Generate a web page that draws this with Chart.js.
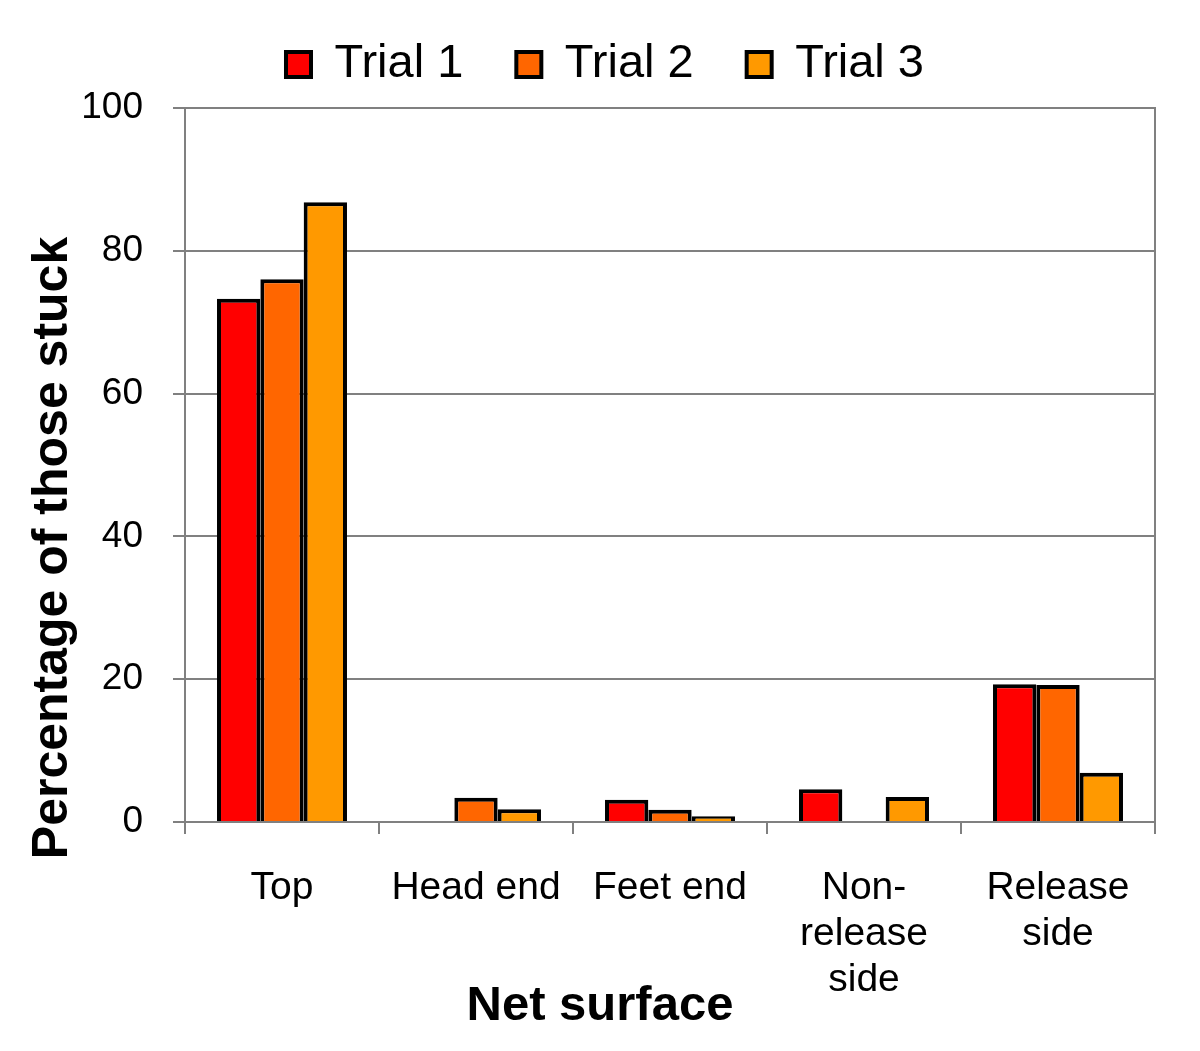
<!DOCTYPE html>
<html>
<head>
<meta charset="utf-8">
<script src="https://cdn.jsdelivr.net/npm/chart.js@4"></script>
<style>
html,body{margin:0;padding:0;background:#fff;}
#wrap{width:1200px;height:1051px;position:relative;}
</style>
</head>
<body>
<div id="wrap"><canvas id="c" width="1200" height="1051"></canvas></div>
<script>
const categories = [["Top"], ["Head end"], ["Feet end"], ["Non-", "release", "side"], ["Release", "side"]];
const seriesNames = ["Trial 1", "Trial 2", "Trial 3"];
const trial1 = [73.3, 0, 3.1, 4.6, 19.3];
const trial2 = [76.0, 3.4, 1.7, 0, 19.2];
const trial3 = [86.8, 1.8, 0.8, 3.5, 6.9];
const yTicks = [0, 20, 40, 60, 80, 100];
const colors = ["#FF0000", "#FF6600", "#FF9900"];
const xTitle = "Net surface";
const yTitle = "Percentage of those stuck";

const font = "'Liberation Sans', Arial, sans-serif";

// frame (top/right border) and axis titles placed like the original
const decor = {
  id: 'decor',
  afterDraw(chart) {
    const a = chart.chartArea, ctx = chart.ctx;
    ctx.save();
    ctx.strokeStyle = '#808080';
    ctx.lineWidth = 2;
    ctx.beginPath();
    ctx.moveTo(a.left, a.top); ctx.lineTo(a.right, a.top); ctx.lineTo(a.right, a.bottom);
    ctx.stroke();

    ctx.fillStyle = '#000';
    ctx.textAlign = 'center';
    ctx.textBaseline = 'alphabetic';
    ctx.font = "bold 49px " + font;
    ctx.fillText(chart.options.scales.x.title.text, 600, 1020);

    ctx.font = "bold 50px " + font;
    ctx.translate(67, 548);
    ctx.rotate(-Math.PI / 2);
    ctx.fillText(chart.options.scales.y.title.text, 0, 0);
    ctx.restore();
  }
};

new Chart(document.getElementById('c'), {
  type: 'bar',
  data: {
    labels: categories,
    datasets: [trial1, trial2, trial3].map((d, i) => ({
      label: seriesNames[i],
      data: d,
      backgroundColor: colors[i],
      borderColor: '#000',
      borderWidth: 4,
      borderSkipped: 'bottom'
    }))
  },
  options: {
    responsive: false,
    animation: false,
    devicePixelRatio: 1,
    layout: { padding: { top: -12, right: 45, bottom: 8, left: 55 } },
    datasets: { bar: { barPercentage: 1.0, categoryPercentage: 0.67 } },
    plugins: {
      legend: {
        position: 'top',
        labels: {
          font: { family: font, size: 47 },
          color: '#000',
          boxWidth: 25,
          boxHeight: 25,
          padding: 53
        }
      },
      tooltip: { enabled: false }
    },
    scales: {
      x: {
        grid: { display: true, drawOnChartArea: false, drawTicks: true, tickLength: 12, color: '#808080', lineWidth: 2, offset: true },
        border: { display: true, color: '#808080', width: 2 },
        ticks: { font: { family: font, size: 39, lineHeight: 1.18 }, color: '#000', padding: 31, maxRotation: 0, autoSkip: false },
        title: { display: false, text: xTitle },
        afterFit(s) { s.height = 221; }
      },
      xTop: {
        type: 'category',
        position: 'top',
        display: true,
        grid: { display: false, drawTicks: false },
        border: { display: false },
        ticks: { display: false },
        afterFit(s) { s.height = 10; }
      },
      y: {
        min: 0, max: 100,
        afterBuildTicks(scale) { scale.ticks = yTicks.map(v => ({ value: v })); },
        grid: { color: '#808080', lineWidth: 2, drawTicks: true, tickLength: 12 },
        border: { display: true, color: '#808080', width: 2 },
        ticks: { font: { family: font, size: 37 }, color: '#000', padding: 30 },
        title: { display: false, text: yTitle },
        afterFit(s) { s.width = 130; }
      }
    }
  },
  plugins: [decor]
});
</script>
</body>
</html>
